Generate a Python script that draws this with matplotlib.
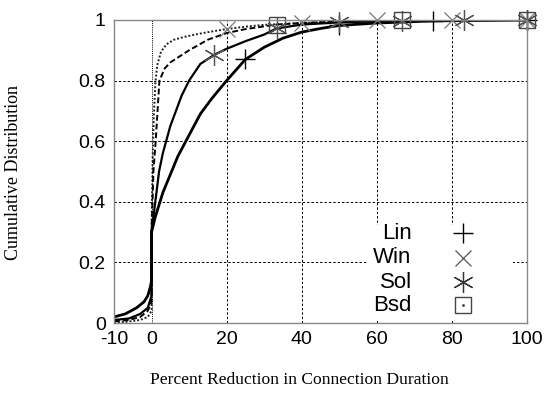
import numpy as np
import matplotlib
matplotlib.use("Agg")
import matplotlib.pyplot as plt
from matplotlib.patches import Rectangle

plt.rcParams["axes.unicode_minus"] = False

# ---- data ----
lin_x = [-10, -7, -4, -2, -1, -0.3, 0, 0, 1, 2, 3, 5, 7, 10, 13, 16, 20, 25, 30, 35, 40, 45, 50, 60, 75, 100]
lin_y = [0.02, 0.03, 0.05, 0.07, 0.09, 0.12, 0.14, 0.30, 0.35, 0.39, 0.43, 0.49, 0.55, 0.62, 0.69, 0.74, 0.80, 0.87, 0.91, 0.94, 0.96, 0.972, 0.982, 0.99, 0.997, 1.0]

win_x = [-10, -6, -3, -1, 0, 0, 0.3, 0.6, 1.0, 1.5, 2.5, 4, 6, 9, 12, 16, 20, 25, 30, 40, 50, 60, 100]
win_y = [0.0, 0.005, 0.01, 0.02, 0.04, 0.30, 0.55, 0.68, 0.79, 0.85, 0.895, 0.92, 0.935, 0.945, 0.953, 0.962, 0.97, 0.978, 0.984, 0.99, 0.996, 0.999, 1.0]

sol_x = [-10, -6, -3, -1, 0, 0, 1, 2, 3, 5, 8, 10, 13, 16.7, 20, 25, 30, 33.3, 40, 50, 66.7, 100]
sol_y = [0.01, 0.015, 0.03, 0.05, 0.09, 0.30, 0.40, 0.50, 0.56, 0.65, 0.75, 0.80, 0.855, 0.885, 0.905, 0.93, 0.952, 0.972, 0.985, 0.992, 0.998, 1.0]

bsd_x = [-10, -6, -3, -1, 0, 0, 0.5, 1.1, 2.1, 3.5, 5, 6, 10, 15, 20, 25, 33.3, 40, 50, 66.7, 100]
bsd_y = [0.005, 0.01, 0.02, 0.04, 0.07, 0.30, 0.50, 0.60, 0.80, 0.84, 0.86, 0.868, 0.90, 0.935, 0.957, 0.97, 0.985, 0.99, 0.995, 0.999, 1.0]

lin_marks = [25, 50, 75, 100]
win_marks = [20, 40, 60, 80, 100]
sol_marks = [16.7, 33.3, 50, 66.7, 83.3, 100]
bsd_marks = [33.3, 66.7, 100]

labels = ["Lin", "Win", "Sol", "Bsd"]
xticks = [-10, 0, 20, 40, 60, 80, 100]
xtick_labels = ["-10", "0", "20", "40", "60", "80", "100"]
yticks = [0, 0.2, 0.4, 0.6, 0.8, 1]
ytick_labels = ["0", "0.2", "0.4", "0.6", "0.8", "1"]

fig = plt.figure(figsize=(5.52, 3.94), dpi=100)
ax = fig.add_axes([114/552, 1-323/394, (527-114)/552, (323-20)/394])

# grid
for gx in [0, 20, 40, 60, 80]:
    ax.axvline(gx, color="black", lw=0.7, dashes=(2.5, 2) if gx else (1, 1.2), zorder=1)
for gy in [0.2, 0.4, 0.6, 0.8]:
    ax.axhline(gy, color="black", lw=0.7, dashes=(2.5, 2), zorder=1)

# curves
ax.plot(lin_x, lin_y, color="black", lw=2.0, zorder=3)
ax.plot(win_x, win_y, color="#222222", lw=1.4, dashes=(1, 1), zorder=3)
ax.plot(sol_x, sol_y, color="black", lw=1.6, zorder=3)
ax.plot(bsd_x, bsd_y, color="black", lw=1.4, dashes=(3, 1.5), zorder=3)

# markers
ax.plot(lin_marks, np.interp(lin_marks, lin_x, lin_y), ls="none", marker="+", ms=14, mew=1.0, color="black", zorder=4, clip_on=False)
ax.plot(win_marks, np.interp(win_marks, win_x, win_y), ls="none", marker="x", ms=11, mew=0.9, color="#777777", zorder=4, clip_on=False)
ax.plot(sol_marks, np.interp(sol_marks, sol_x, sol_y), ls="none", marker=(6, 2, 0), ms=15, mew=0.9, color="#555555", zorder=4, clip_on=False)
ax.plot(bsd_marks, np.interp(bsd_marks, bsd_x, bsd_y), ls="none", marker="s", ms=11, mew=1.0, mfc="none", mec="#444444", zorder=4, clip_on=False)

ax.set_xlim(-10, 100)
ax.set_ylim(0, 1)
ax.set_xticks(xticks)
ax.set_xticklabels(xtick_labels)
ax.set_yticks(yticks)
ax.set_yticklabels(ytick_labels)
ax.tick_params(length=0, labelsize=14, pad=6)
for lab in ax.get_xticklabels() + ax.get_yticklabels():
    lab.set_fontfamily("Liberation Sans")
for s in ax.spines.values():
    s.set_color("#888888")
    s.set_linewidth(1.0)
    s.set_zorder(5)

fig.text(150/552, 1-380/394, "Percent Reduction in Connection Duration", family="Liberation Serif",
         fontsize=12.6, ha="left", va="center")
fig.text(14/552, 1-172/394, "Cumulative Distribution", family="Liberation Serif",
         fontsize=13, ha="center", va="center", rotation=90)

# legend (manual, markers only)
ax.add_patch(Rectangle((0.615, 0.005), 0.351, 0.318, transform=ax.transAxes, facecolor="white", edgecolor="none", zorder=2))
leg_y = [0.297, 0.215, 0.135, 0.059]
leg_styles = [dict(marker="+", ms=14, mew=1.0, color="black"),
              dict(marker="x", ms=11, mew=0.9, color="#555555"),
              dict(marker=(6, 2, 0), ms=15, mew=0.9, color="#333333"),
              dict(marker="s", ms=11, mew=1.0, mfc="none", mec="#444444")]
for lab, yy, st in zip(labels, leg_y, leg_styles):
    ax.text(0.721, yy, lab, transform=ax.transAxes, ha="right", va="center", fontsize=16, family="Liberation Sans", zorder=6)
    ax.plot([0.845], [yy], transform=ax.transAxes, ls="none", zorder=6, **st)
ax.plot([0.845], [leg_y[3]], transform=ax.transAxes, ls="none", marker=".", ms=2, color="#444444", zorder=6)

fig.savefig("out.png", dpi=100)
